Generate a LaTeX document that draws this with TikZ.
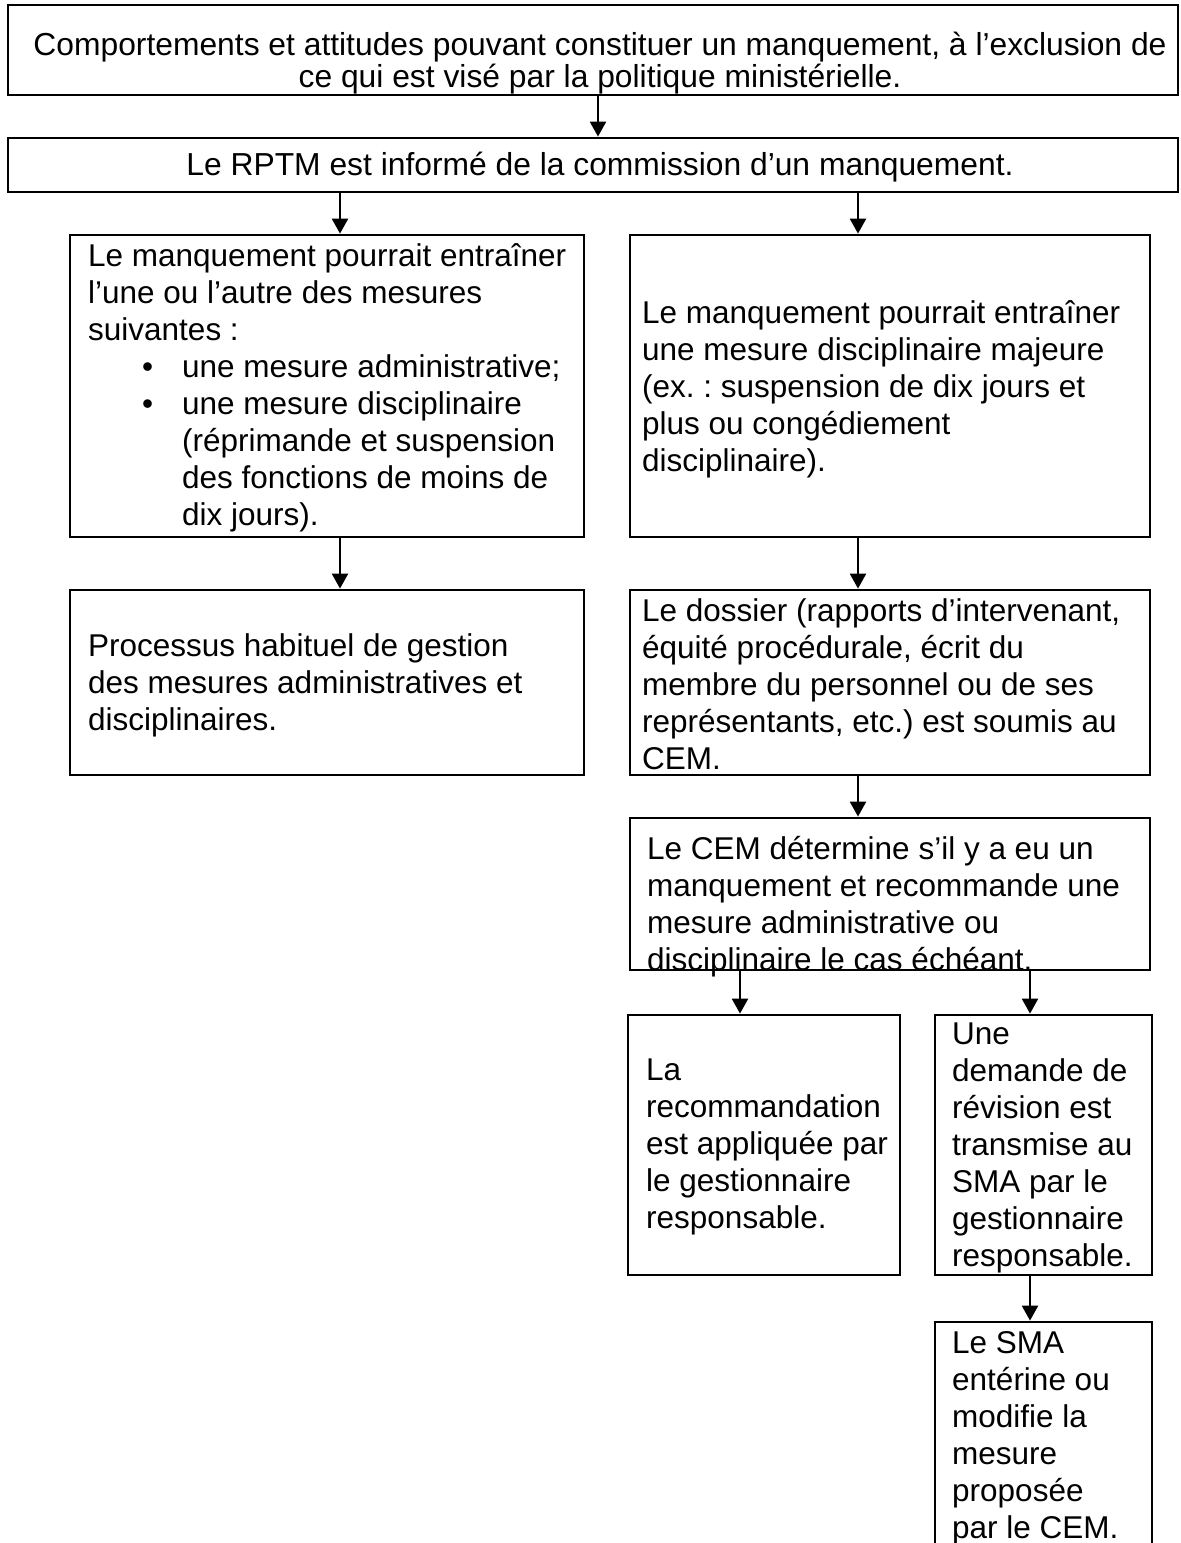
\documentclass[tikz,border=0pt]{standalone}
\usepackage{fontspec}
\setmainfont{Liberation Sans}
\usetikzlibrary{arrows.meta,calc}
\begin{document}
\frenchspacing
\begin{tikzpicture}[x=1pt,y=-1pt,
  box/.style={draw, line width=2.8pt, inner sep=0pt},
  txt/.style={inner sep=0pt, align=left, font=\fontsize{31.5}{37}\selectfont\frenchspacing, anchor=west},
  ctxt/.style={inner sep=0pt, align=center, font=\fontsize{31.8}{32}\selectfont\frenchspacing},
  arr/.style={line width=2.4pt, -{Triangle[length=15pt,width=16pt]}}]
\useasboundingbox (0,0) rectangle (1181,1543);
\clip (0,0) rectangle (1181,1543);
% boxes
\node[box, minimum width=1170pt, minimum height=90pt] (top) at (593,50) {};
\node[box, minimum width=1170pt, minimum height=54pt] (rptm) at (593,165) {};
\node[box, minimum width=514pt, minimum height=302pt] (lb1) at (327,386) {};
\node[box, minimum width=520pt, minimum height=302pt] (rb1) at (890,386) {};
\node[box, minimum width=514pt, minimum height=185pt] (lb2) at (327,682.5) {};
\node[box, minimum width=520pt, minimum height=185pt] (rb2) at (890,682.5) {};
\node[box, minimum width=520pt, minimum height=152pt] (cem) at (890,894) {};
\node[box, minimum width=272pt, minimum height=260pt] (la) at (764,1145) {};
\node[box, minimum width=217pt, minimum height=260pt] (une) at (1043.5,1145) {};
\node[box, minimum width=217pt, minimum height=238pt] (sma) at (1043.5,1441) {};
% texts
\node[ctxt] (topt) at (600,63) {Comportements et attitudes pouvant constituer un manquement, à l’exclusion de\\ce qui est visé par la politique ministérielle.};
\node[ctxt] (rptmt) at (600,167) {Le RPTM est informé de la commission d’un manquement.};
\node[txt] (lb1t) at (88,388) {Le manquement pourrait entraîner\\l’une ou l’autre des mesures\\suivantes :\\\hspace*{54pt}\makebox[40pt][l]{\textbullet}une mesure administrative;\\\hspace*{54pt}\makebox[40pt][l]{\textbullet}une mesure disciplinaire\\\hspace*{94pt}(réprimande et suspension\\\hspace*{94pt}des fonctions de moins de\\\hspace*{94pt}dix jours).};
\node[txt] (rb1t) at (642,389) {Le manquement pourrait entraîner\\une mesure disciplinaire majeure\\(ex. : suspension de dix jours et\\plus ou congédiement\\disciplinaire).};
\node[txt] (lb2t) at (88,685) {Processus habituel de gestion\\des mesures administratives et\\disciplinaires.};
\node[txt] (rb2t) at (642,684) {Le dossier (rapports d’intervenant,\\équité procédurale, écrit du\\membre du personnel ou de ses\\représentants, etc.) est soumis au\\CEM.};
\node[txt] (cemt) at (647,907) {Le CEM détermine s’il y a eu un\\manquement et recommande une\\mesure administrative ou\\disciplinaire le cas échéant.};
\node[txt] (lat) at (646,1147) {La\\recommandation\\est appliquée par\\le gestionnaire\\responsable.};
\node[txt] (unet) at (952,1148) {Une\\demande de\\révision est\\transmise au\\SMA par le\\gestionnaire\\responsable.};
\node[txt] (smat) at (952,1438) {Le SMA\\entérine ou\\modifie la\\mesure\\proposée\\par le CEM.};
% arrows
\coordinate (xa) at (598,0);
\coordinate (xb) at (340,0);
\coordinate (xc) at (858,0);
\coordinate (xd) at (740,0);
\coordinate (xe) at (1030,0);
\draw[arr] (top.south -| xa) -- (rptm.north -| xa);
\draw[arr] (rptm.south -| xb) -- (lb1.north -| xb);
\draw[arr] (rptm.south -| xc) -- (rb1.north -| xc);
\draw[arr] (lb1.south -| xb) -- (lb2.north -| xb);
\draw[arr] (rb1.south -| xc) -- (rb2.north -| xc);
\draw[arr] (rb2.south -| xc) -- (cem.north -| xc);
\draw[arr] (cem.south -| xd) -- (la.north -| xd);
\draw[arr] (cem.south -| xe) -- (une.north -| xe);
\draw[arr] (une.south -| xe) -- (sma.north -| xe);
\end{tikzpicture}
\end{document}
